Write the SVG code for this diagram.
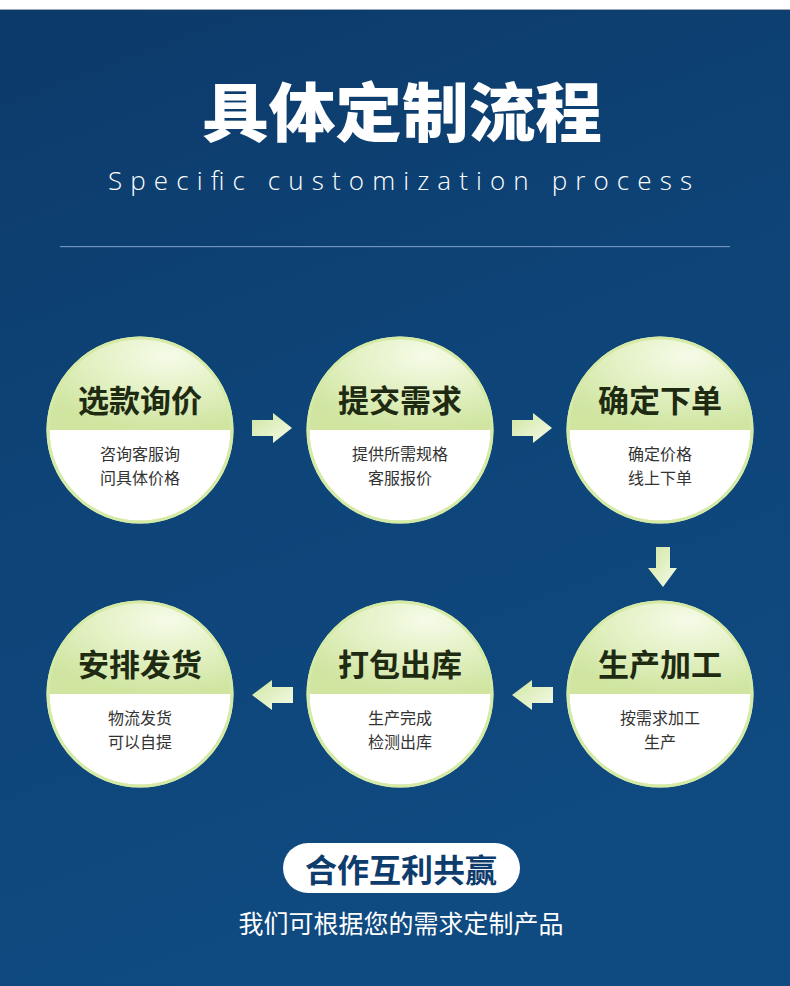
<svg xmlns="http://www.w3.org/2000/svg" width="790" height="986" viewBox="0 0 790 986">
<defs>
<linearGradient id="bg" x1="0" y1="0" x2="0.3" y2="1">
<stop offset="0" stop-color="#0c3a69"/>
<stop offset="0.5" stop-color="#0e4478"/>
<stop offset="1" stop-color="#0f4a80"/>
</linearGradient>
<radialGradient id="top" cx="0.65" cy="0.2" r="0.8">
<stop offset="0" stop-color="#f6fbe8"/>
<stop offset="0.5" stop-color="#e3f1c4"/>
<stop offset="1" stop-color="#cfe5a0"/>
</radialGradient>
<linearGradient id="arr" x1="0" y1="0" x2="1" y2="1">
<stop offset="0" stop-color="#cfe6a2"/>
<stop offset="1" stop-color="#f5fbe8"/>
</linearGradient>
<clipPath id="c1"><circle cx="140" cy="430" r="92"/></clipPath>
<clipPath id="c2"><circle cx="400" cy="430" r="92"/></clipPath>
<clipPath id="c3"><circle cx="660" cy="430" r="92"/></clipPath>
<clipPath id="c4"><circle cx="140" cy="694" r="92"/></clipPath>
<clipPath id="c5"><circle cx="400" cy="694" r="92"/></clipPath>
<clipPath id="c6"><circle cx="660" cy="694" r="92"/></clipPath>
</defs>
<style>
.ring{fill:#ffffff;stroke:#d6eaa8;stroke-width:3}
.tp{fill:url(#top)}
.t{font-family:"Noto Sans CJK SC","Noto Sans",sans-serif;font-weight:700;font-size:31px;fill:#1f2a12;text-anchor:middle}
.s{font-family:"Noto Sans CJK SC","Noto Sans",sans-serif;font-size:16px;fill:#333333;text-anchor:middle}
.a{fill:url(#arr)}
</style>
<rect width="790" height="986" fill="url(#bg)"/>
<rect width="790" height="9" fill="#ffffff"/>
<rect y="9" width="790" height="1" fill="#9aa8b8"/>
<text x="402" y="136" font-family="'Noto Sans CJK SC',sans-serif" font-weight="900" font-size="64" fill="#ffffff" text-anchor="middle" textLength="400" lengthAdjust="spacingAndGlyphs">具体定制流程</text>
<text x="108" y="190" font-family="'Open Sans','Noto Sans',sans-serif" font-weight="300" font-size="26" fill="#ffffff" textLength="584" lengthAdjust="spacing">Specific customization process</text>
<rect x="60" y="246" width="670" height="1.2" fill="#6f93bd"/>

<g id="connectors">
<path class="a" d="M252,420 H273 V413 L292,428 L273,443 V436 H252 Z"/>
<path class="a" d="M512,420 H533 V413 L552,428 L533,443 V436 H512 Z"/>
<path class="a" d="M656,547 H670 V568 H677 L663,587 L648,568 H656 Z"/>
<path class="a" d="M553,687 H532 V680 L512,695 L532,710 V703 H553 Z"/>
<path class="a" d="M293,687 H272 V680 L252,695 L272,710 V703 H293 Z"/>
</g>

<g id="n1">
<circle class="ring" cx="140" cy="430" r="92"/>
<rect class="tp" x="48" y="338" width="184" height="92" clip-path="url(#c1)"/>
<circle cx="140" cy="430" r="92" fill="none" stroke="#d6eaa8" stroke-width="3"/>
<text class="t" x="140" y="412">选款询价</text>
<text class="s" x="140" y="460">咨询客服询</text>
<text class="s" x="140" y="483.5">问具体价格</text>
</g>
<g id="n2">
<circle class="ring" cx="400" cy="430" r="92"/>
<rect class="tp" x="308" y="338" width="184" height="92" clip-path="url(#c2)"/>
<circle cx="400" cy="430" r="92" fill="none" stroke="#d6eaa8" stroke-width="3"/>
<text class="t" x="400" y="412">提交需求</text>
<text class="s" x="400" y="460">提供所需规格</text>
<text class="s" x="400" y="483.5">客服报价</text>
</g>
<g id="n3">
<circle class="ring" cx="660" cy="430" r="92"/>
<rect class="tp" x="568" y="338" width="184" height="92" clip-path="url(#c3)"/>
<circle cx="660" cy="430" r="92" fill="none" stroke="#d6eaa8" stroke-width="3"/>
<text class="t" x="660" y="412">确定下单</text>
<text class="s" x="660" y="460">确定价格</text>
<text class="s" x="660" y="483.5">线上下单</text>
</g>
<g id="n4">
<circle class="ring" cx="140" cy="694" r="92"/>
<rect class="tp" x="48" y="602" width="184" height="92" clip-path="url(#c4)"/>
<circle cx="140" cy="694" r="92" fill="none" stroke="#d6eaa8" stroke-width="3"/>
<text class="t" x="140" y="676">安排发货</text>
<text class="s" x="140" y="724">物流发货</text>
<text class="s" x="140" y="747.5">可以自提</text>
</g>
<g id="n5">
<circle class="ring" cx="400" cy="694" r="92"/>
<rect class="tp" x="308" y="602" width="184" height="92" clip-path="url(#c5)"/>
<circle cx="400" cy="694" r="92" fill="none" stroke="#d6eaa8" stroke-width="3"/>
<text class="t" x="400" y="676">打包出库</text>
<text class="s" x="400" y="724">生产完成</text>
<text class="s" x="400" y="747.5">检测出库</text>
</g>
<g id="n6">
<circle class="ring" cx="660" cy="694" r="92"/>
<rect class="tp" x="568" y="602" width="184" height="92" clip-path="url(#c6)"/>
<circle cx="660" cy="694" r="92" fill="none" stroke="#d6eaa8" stroke-width="3"/>
<text class="t" x="660" y="676">生产加工</text>
<text class="s" x="660" y="724">按需求加工</text>
<text class="s" x="660" y="747.5">生产</text>
</g>

<g id="footer">
<rect x="283" y="843" width="237" height="50" rx="25" fill="#ffffff"/>
<text x="401" y="882" font-family="'Noto Sans CJK SC',sans-serif" font-weight="700" font-size="32" fill="#0e3c6c" text-anchor="middle">合作互利共赢</text>
<text x="401" y="933" font-family="'Noto Sans CJK SC',sans-serif" font-size="25" fill="#ffffff" text-anchor="middle">我们可根据您的需求定制产品</text>
</g>
</svg>
